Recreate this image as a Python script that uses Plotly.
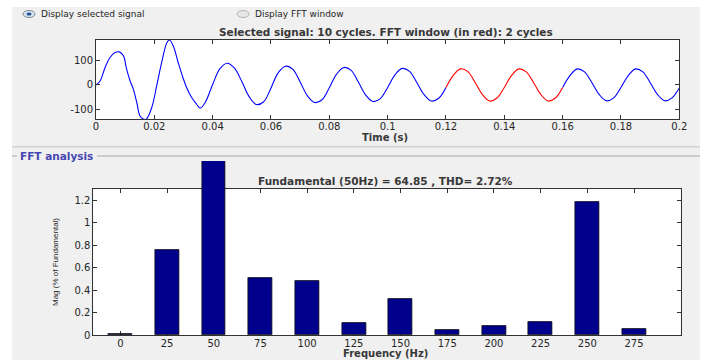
import plotly.graph_objects as go

# ---- data -------------------------------------------------------------
# Selected signal (10 cycles of 50 Hz), sampled at its extrema / turning points
time_s = [
    0.0, 0.0014, 0.0031, 0.0048, 0.0065, 0.008, 0.0094, 0.0105, 0.0117, 0.0128,
    0.014, 0.0151, 0.0162, 0.0172, 0.0191, 0.0208, 0.0225, 0.0243, 0.0252, 0.0265,
    0.0282, 0.03, 0.0311, 0.0328, 0.0345, 0.0357, 0.0374,
    0.04, 0.0425, 0.045, 0.0475, 0.05, 0.0525, 0.055, 0.0575,
    0.06, 0.0625, 0.065, 0.0675, 0.07, 0.0725, 0.075, 0.0775,
    0.08, 0.0825, 0.085, 0.0875, 0.09, 0.0925, 0.095, 0.0975,
    0.1, 0.1025, 0.105, 0.1075, 0.11, 0.1125, 0.115, 0.1175,
    0.12, 0.1225, 0.125, 0.1275, 0.13, 0.1325, 0.135, 0.1375,
    0.14, 0.1425, 0.145, 0.1475, 0.15, 0.1525, 0.155, 0.1575,
    0.16, 0.1625, 0.165, 0.1675, 0.17, 0.1725, 0.175, 0.1775,
    0.18, 0.1825, 0.185, 0.1875, 0.19, 0.1925, 0.195, 0.1975,
    0.2,
]
signal = [
    0, 16, 70, 111, 131, 134, 118, 64, 16, -17,
    -72, -126, -138, -139, -92, -4, 90, 171, 182, 158,
    90, 23, -11, -51, -78, -94, -72,
    2, 66, 88, 68, 14, -47, -79, -68,
    -12, 50, 76, 63, 12, -44, -71, -60,
    -11, 44, 71, 59, 11, -41, -67, -55,
    -10, 41, 67, 55, 10, -39, -65, -54,
    -10, 39, 65, 54, 10, -39, -65, -53,
    -10, 39, 65, 53, 10, -38, -65, -53,
    -10, 38, 65, 53, 10, -38, -64, -52,
    -10, 38, 65, 53, 10, -38, -64, -52,
    -12,
]
fft_window = (0.12, 0.16)  # 2 cycles analysed

time_ticks = [0, 0.02, 0.04, 0.06, 0.08, 0.1, 0.12, 0.14, 0.16, 0.18, 0.2]
time_tick_labels = ["0", "0.02", "0.04", "0.06", "0.08", "0.1", "0.12", "0.14", "0.16", "0.18", "0.2"]
sig_ticks = [-100, 0, 100]
sig_tick_labels = ["-100", "0", "100"]

# FFT analysis: magnitude in % of the fundamental
freq_hz = [0, 25, 50, 75, 100, 125, 150, 175, 200, 225, 250, 275]
mag_pct = [0.014, 0.76, 100, 0.51, 0.48, 0.11, 0.32, 0.05, 0.08, 0.12, 1.19, 0.06]
mag_ticks = [0, 0.2, 0.4, 0.6, 0.8, 1.0, 1.2]
mag_tick_labels = ["0", "0.2", "0.4", "0.6", "0.8", "1", "1.2"]

fundamental = 64.85
thd = 2.72

# ---- layout helpers (pixel -> paper fraction) --------------------------
W, H = 704, 360


def fx(px):
    return px / W


def fy(py):
    return 1 - py / H


FONT = "DejaVu Sans"
TXT = "#262626"
TITLE = "#383838"
AX = "#333333"
PANEL = "#f0f0f0"

top_px = (96, 679.3, 40, 119.3)       # left, right, top, bottom
fft_px = (93.3, 680.7, 189.3, 335.3)
bar_top_px = 161                      # bars may rise above the axes box
mag_max = 1.3
freq_range = [-14.5, 300]
bar_width = 12.8

fig = go.Figure()

# signal: blue outside the FFT window, red inside it
in_win = [fft_window[0] <= t <= fft_window[1] for t in time_s]
blue_v = [None if (w and fft_window[0] < t < fft_window[1]) else v
          for t, v, w in zip(time_s, signal, in_win)]
fig.add_trace(go.Scatter(
    x=time_s, y=blue_v, mode="lines", connectgaps=False,
    line=dict(color="#0000ff", width=1.1, shape="spline"),
    xaxis="x", yaxis="y", hoverinfo="skip", showlegend=False))
win_t = [t for t, w in zip(time_s, in_win) if w]
win_v = [v for v, w in zip(signal, in_win) if w]
fig.add_trace(go.Scatter(
    x=win_t, y=win_v, mode="lines", line=dict(color="#ff0000", width=1.1, shape="spline"),
    xaxis="x", yaxis="y", hoverinfo="skip", showlegend=False))

# FFT axes box (empty) and the spectrum bars on an overlapping, taller axis
fig.add_trace(go.Scatter(x=[], y=[], xaxis="x2", yaxis="y2", showlegend=False))
fig.add_trace(go.Bar(
    x=freq_hz, y=mag_pct, width=bar_width, xaxis="x3", yaxis="y3",
    marker=dict(color="#00008c", line=dict(color="#101010", width=0.8)),
    hoverinfo="skip", showlegend=False))

tickfont = dict(family=FONT, size=10, color=TXT)
common = dict(showline=True, linecolor=AX, linewidth=1, mirror="ticks", ticks="inside",
              ticklen=4, tickcolor=AX, showgrid=False, zeroline=False, tickfont=tickfont)

fft_h = fft_px[3] - fft_px[2]
bar_h = fft_px[3] - bar_top_px

fig.update_layout(
    width=W, height=H, margin=dict(l=0, r=0, t=0, b=0, autoexpand=False),
    paper_bgcolor="white", plot_bgcolor="rgba(0,0,0,0)", showlegend=False,
    bargap=0,
    xaxis=dict(domain=[fx(top_px[0]), fx(top_px[1])], range=[0, 0.2], anchor="y",
               tickvals=time_ticks, ticktext=time_tick_labels, ticklabelstandoff=-2, **common),
    yaxis=dict(domain=[fy(top_px[3]), fy(top_px[2])], range=[min(signal), max(signal)], anchor="x",
               tickvals=sig_ticks, ticktext=sig_tick_labels, **common),
    xaxis2=dict(domain=[fx(fft_px[0]), fx(fft_px[1])], range=freq_range, anchor="y2",
                tickvals=freq_hz, ticktext=[str(f) for f in freq_hz], ticklabelstandoff=-1, **common),
    yaxis2=dict(domain=[fy(fft_px[3]), fy(fft_px[2])], range=[0, mag_max], anchor="x2",
                tickvals=mag_ticks, ticktext=mag_tick_labels, **common),
    xaxis3=dict(domain=[fx(fft_px[0]), fx(fft_px[1])], range=freq_range, anchor="y3", visible=False),
    yaxis3=dict(domain=[fy(fft_px[3]), fy(bar_top_px)], range=[0, mag_max * bar_h / fft_h],
                anchor="x3", visible=False),
)

shapes = [
    # window panel
    dict(type="rect", xref="paper", yref="paper", x0=fx(12), x1=fx(700), y0=fy(360), y1=fy(7),
         fillcolor=PANEL, line=dict(width=0), layer="below"),
    # separator between the signal and FFT sections
    dict(type="line", xref="paper", yref="paper", x0=fx(12), x1=fx(700), y0=fy(146.7), y1=fy(146.7),
         line=dict(color="#d2d2d2", width=1.5), layer="below"),
    # FFT analysis group border
    dict(type="line", xref="paper", yref="paper", x0=fx(12), x1=fx(17), y0=fy(156), y1=fy(156),
         line=dict(color="#a8a8a8", width=1), layer="below"),
    dict(type="line", xref="paper", yref="paper", x0=fx(97), x1=fx(700), y0=fy(156), y1=fy(156),
         line=dict(color="#a8a8a8", width=1), layer="below"),
    # white axes backgrounds
    dict(type="rect", xref="x domain", yref="y domain", x0=0, x1=1, y0=0, y1=1,
         fillcolor="white", line=dict(width=0), layer="below"),
    dict(type="rect", xref="x2 domain", yref="y2 domain", x0=0, x1=1, y0=0, y1=1,
         fillcolor="white", line=dict(width=0), layer="below"),
    # radio buttons
    dict(type="circle", xref="paper", yref="paper", x0=fx(23), x1=fx(35), y0=fy(17.5), y1=fy(10.5),
         fillcolor="#d6e2ee", line=dict(color="#7d8b99", width=1)),
    dict(type="circle", xref="paper", yref="paper", x0=fx(26.5), x1=fx(31.5), y0=fy(15.5), y1=fy(12.5),
         fillcolor="#1f4f8f", line=dict(width=0)),
    dict(type="circle", xref="paper", yref="paper", x0=fx(237), x1=fx(249), y0=fy(17.5), y1=fy(10.5),
         fillcolor="#e6e6e6", line=dict(color="#b5b5b5", width=1)),
]


def label(text, x, y, size=10, xanchor="center", color=TXT, angle=0, family=FONT, bold=False):
    return dict(text=text, x=fx(x), y=fy(y), xref="paper", yref="paper", showarrow=False,
                xanchor=xanchor, yanchor="middle", textangle=angle, borderpad=0,
                font=dict(family=family, size=size, color=color, weight="bold" if bold else "normal"))


annotations = [
    label("Display selected signal", 40, 14, size=9, xanchor="left"),
    label("Display FFT window", 254, 14, size=9, xanchor="left"),
    label("Selected signal: 10 cycles. FFT window (in red): 2 cycles", 386, 32, size=10.5,
          color=TITLE, bold=True),
    label("Time (s)", 385, 137, size=10, color=TITLE, bold=True),
    label("FFT analysis", 19, 156, size=10.5, xanchor="left", color="#4646b0", bold=True),
    label(f"Fundamental (50Hz) = {fundamental:.2f} , THD= {thd:.2f}%", 385, 181, size=10.5,
          color=TITLE, bold=True),
    label("Frequency (Hz)", 385, 353, size=10, color=TITLE, bold=True),
    label("Mag (% of Fundamental)", 55, 262, size=8, angle=-90, family="Liberation Sans"),
]

fig.update_layout(shapes=shapes, annotations=annotations)

fig.write_html("out.html")
